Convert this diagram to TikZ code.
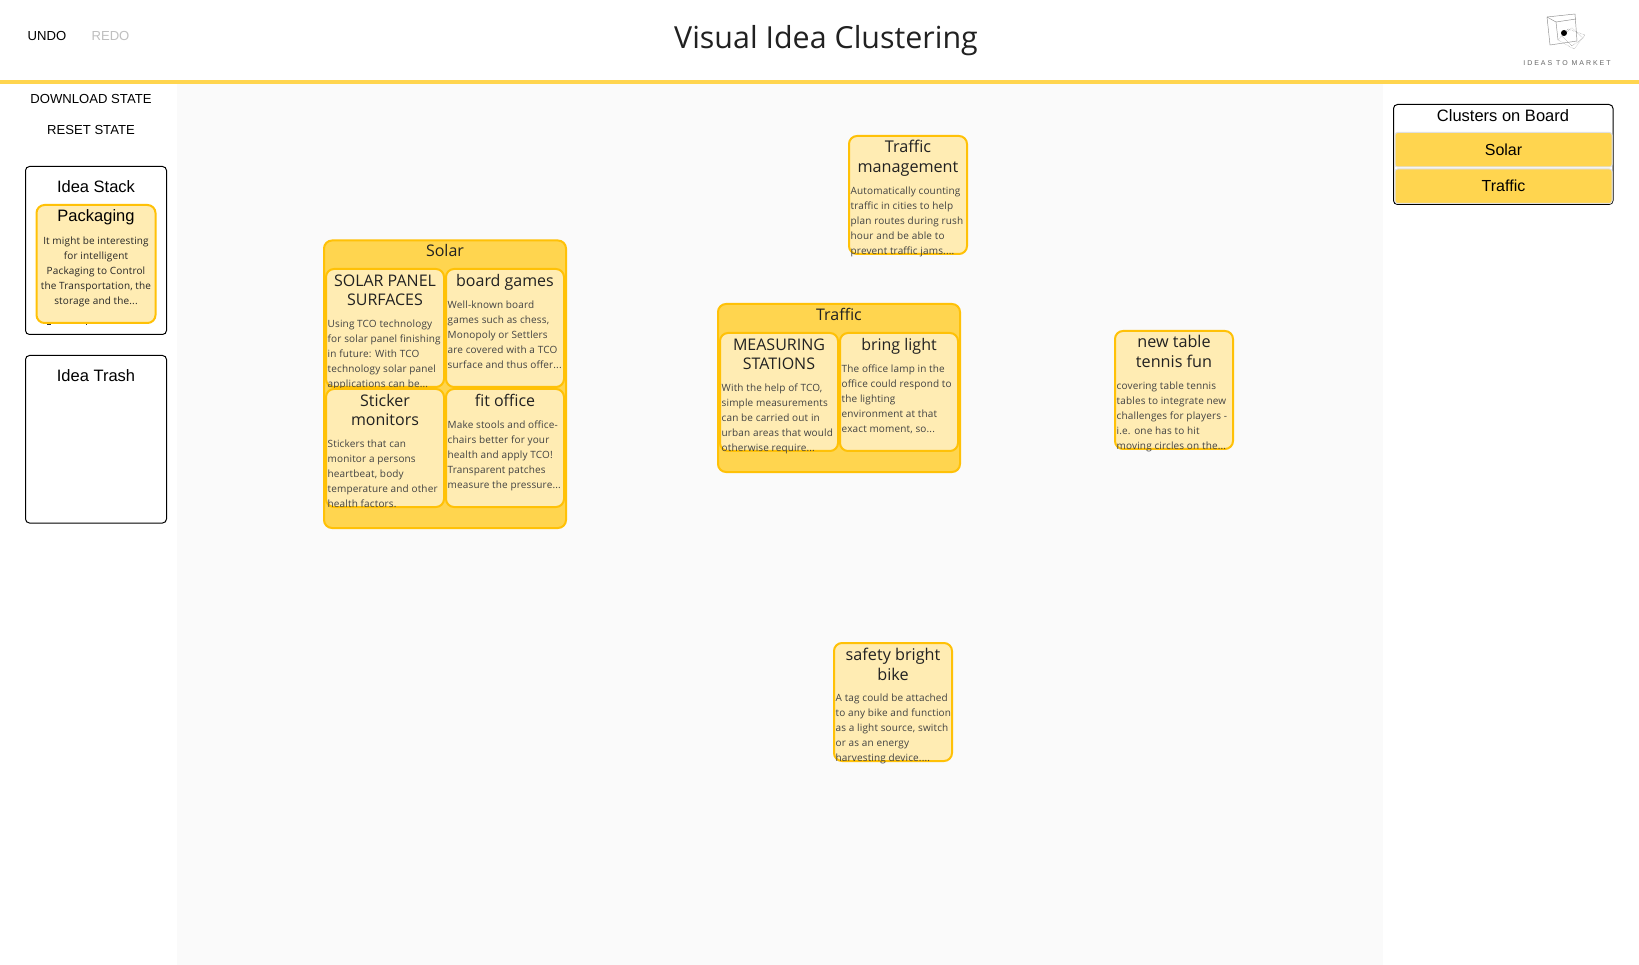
\documentclass[tikz,border=0pt]{standalone}
\usepackage{fontspec}
\setmainfont{Liberation Sans}
\newfontfamily\interf{Open Sans}
\newfontfamily\bodyf[LetterSpace=1.5]{Open Sans}
\newfontfamily\logof[LetterSpace=28]{Liberation Sans}
\definecolor{amberl}{HTML}{FFD54F}
\definecolor{amberd}{HTML}{FFC107}
\definecolor{amberp}{HTML}{FFECB3}
\definecolor{boardbg}{HTML}{FAFAFA}
\definecolor{inkt}{HTML}{212121}
\definecolor{inkb}{HTML}{424242}
\tikzset{
  cardbox/.style={draw=amberd,fill=amberp,line width=2pt,rounded corners=8pt},
  clusterbox/.style={draw=amberd,fill=amberl,line width=2pt,rounded corners=8pt},
  panelbox/.style={draw=black,fill=white,line width=1pt,rounded corners=4pt},
  rowbox/.style={draw=black!12,fill=amberl,line width=1pt,rounded corners=2.5pt},
  cardtitle/.style={anchor=north,inner sep=0pt,align=center,text=inkt,font=\interf\fontsize{16}{19}\selectfont},
  freetitle/.style={cardtitle,font=\interf\fontsize{16.2}{20}\selectfont},
  cardbody/.style={anchor=north west,inner sep=0pt,align=left,text=inkb,font=\bodyf\fontsize{10}{15}\selectfont},
  ui/.style={anchor=base,inner sep=0pt,text=black,font=\fontsize{13.1}{16}\selectfont},
  paneltitle/.style={anchor=base,inner sep=0pt,text=black,font=\fontsize{16.5}{19}\selectfont},
  clusterlabel/.style={anchor=base,inner sep=0pt,text=inkt,font=\interf\fontsize{16}{19}\selectfont},
  logoline/.style={draw=black!45,line width=0.45pt},
}
% name, x1, y1, x2, y2, title, title lines, body
\newcommand\ideacard[8]{%
  \path[cardbox] (#2,#3) rectangle (#4,#5);
  \node[cardtitle] (#1t) at ({(#2+#4)/2},{#3+3.5}) {\rule{0pt}{13.5pt}#6};
  \node[cardbody] (#1b) at ({#2+1.5},{#3+12+19*#7}) {\rule{0pt}{8pt}#8};
}
% name, x1, y1, x2, y2, title, body (free cards: two-line title, wider pitch)
\newcommand\freecard[7]{%
  \path[cardbox] (#2,#3) rectangle (#4,#5);
  \node[freetitle] (#1t) at ({(#2+#4)/2},{#3+3.3}) {\rule{0pt}{13.5pt}#6};
  \node[cardbody] (#1b) at ({#2+1.5},{#3+50}) {\rule{0pt}{8pt}#7};
}
\begin{document}
\begin{tikzpicture}[x=1pt,y=-1pt]
\useasboundingbox (0,0) rectangle (1639,965);
\fill[white] (0,0) rectangle (1639,965);
\fill[boardbg] (177,84) rectangle (1383,965);
\fill[amberl] (0,80) rectangle (1639,84);
% header
\node[ui] (undo) at (47,40.5) {UNDO};
\node[ui,text=black!25] (redo) at (110.5,40.5) {REDO};
\node[anchor=base,inner sep=0pt,text=inkt,font=\interf\fontsize{30.4}{36}\selectfont] (title) at (826,48.5) {Visual Idea Clustering};
% logo
\draw[logoline] (1547,17) -- (1575,14) -- (1577,41) -- (1550,45) -- cycle;
\draw[logoline] (1547,17) -- (1556,22) -- (1576,19);
\draw[logoline] (1556,22) -- (1558,40);
\draw[logoline,densely dotted] (1568,29) -- (1585,35) -- (1574,49) -- (1558,40) -- cycle;
\draw[logoline,densely dotted] (1572,28) -- (1583,38) -- (1572,46) -- (1562,36) -- cycle;
\fill[black] (1564,33) circle (3pt);
\node[anchor=base,inner sep=0pt,text=black!60,font=\logof\fontsize{7}{8}\selectfont] (logotext) at (1567,66) {IDEAS TO MARKET};
% left column
\node[ui] (download) at (91,103.5) {DOWNLOAD STATE};
\node[ui] (reset) at (91,134.5) {RESET STATE};
\path[panelbox] (25.5,166.5) rectangle (166.5,334.5);
\node[paneltitle] (stacklabel) at (96,192.5) {Idea Stack};
\fill[black!80] (47,323.5) rectangle (51,325.2);
\fill[black!80] (85.5,323.5) rectangle (86.5,325.2);
\path[cardbox] (36.5,205) rectangle (155.5,323);
\node[paneltitle] (packt) at (96,221.5) {Packaging};
\node[cardbody,anchor=north,align=center,text=black!85] (packb) at (96,236) {\rule{0pt}{8pt}It might be interesting\\for intelligent\\Packaging to Control\\the Transportation, the\\storage and the...};
\path[panelbox] (25.5,355.5) rectangle (166.5,523);
\node[paneltitle] (trashlabel) at (96,381.5) {Idea Trash};
% right panel
\path[panelbox] (1393.5,104.5) rectangle (1613,204.5);
\node[paneltitle] (clusterslabel) at (1503,121.5) {Clusters on Board};
\path[rowbox] (1395,132.5) rectangle (1612,167);
\node[paneltitle,font=\fontsize{16}{19}\selectfont] (rowsolar) at (1503.5,156) {Solar};
\path[rowbox] (1395,169) rectangle (1612,203.5);
\node[paneltitle,font=\fontsize{16}{19}\selectfont] (rowtraffic) at (1503.5,192) {Traffic};
% Solar cluster
\path[clusterbox] (324,240.5) rectangle (566,528);
\node[clusterlabel] (solarlabel) at (445,256.7) {Solar};
\ideacard{sp}{326}{269}{444}{387}{SOLAR PANEL\\SURFACES}{2}{Using TCO technology\\for solar panel finishing\\in future: With TCO\\technology solar panel\\applications can be...}
\ideacard{bg}{446}{269}{564}{387}{board games}{1}{Well-known board\\games such as chess,\\Monopoly or Settlers\\are covered with a TCO\\surface and thus offer...}
\ideacard{sm}{326}{389}{444}{507}{Sticker\\monitors}{2}{Stickers that can\\monitor a persons\\heartbeat, body\\temperature and other\\health factors.}
\ideacard{fo}{446}{389}{564}{507}{fit office}{1}{Make stools and office-\\chairs better for your\\health and apply TCO!\\Transparent patches\\measure the pressure...}
% Traffic cluster
\path[clusterbox] (718,304) rectangle (960,472);
\node[clusterlabel] (trafficlabel) at (839,320.7) {Traffic};
\ideacard{ms}{720}{333}{838}{451}{MEASURING\\STATIONS}{2}{With the help of TCO,\\simple measurements\\can be carried out in\\urban areas that would\\otherwise require...}
\ideacard{bl}{840}{333}{958}{451}{bring light}{1}{The office lamp in the\\office could respond to\\the lighting\\environment at that\\exact moment, so...}
% free cards
\freecard{tm}{849}{136}{967}{254}{Traffic\\management}{Automatically counting\\traffic in cities to help\\plan routes during rush\\hour and be able to\\prevent traffic jams....}
\freecard{nt}{1115}{331}{1233}{449}{new table\\tennis fun}{covering table tennis\\tables to integrate new\\challenges for players -\\i.e. one has to hit\\moving circles on the...}
\freecard{sb}{834}{643}{952}{761}{safety bright\\bike}{A tag could be attached\\to any bike and function\\as a light source, switch\\or as an energy\\harvesting device....}
\end{tikzpicture}
\end{document}
